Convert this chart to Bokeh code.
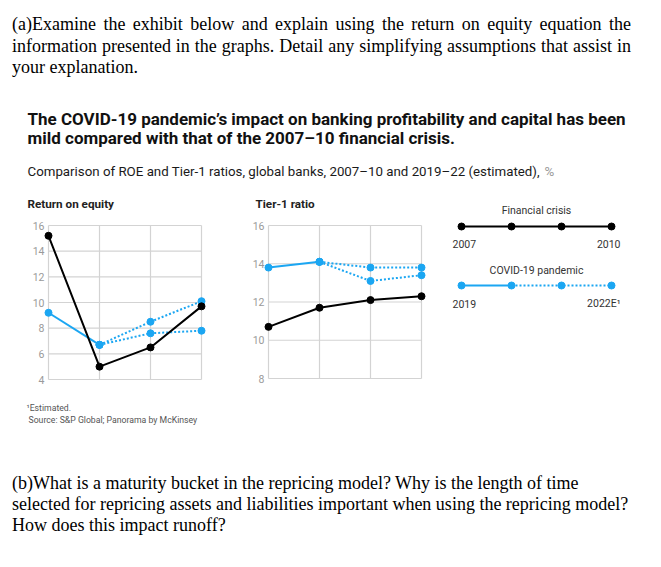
from bokeh.plotting import figure
from bokeh.models import Range1d, Div
from bokeh.layouts import column
from bokeh.embed import file_html
from bokeh.resources import INLINE
from bokeh.core.properties import value

# ---------------- data ----------------
periods = [0, 1, 2, 3]
roe_crisis = [15.2, 5.0, 6.5, 9.7]
roe_covid_actual = [9.2, 6.7]
roe_covid_est_high = [6.7, 8.5, 10.1]
roe_covid_est_low = [6.7, 7.6, 7.8]
roe_ticks = [4, 6, 8, 10, 12, 14, 16]

tier1_crisis = [10.7, 11.7, 12.1, 12.3]
tier1_covid_actual = [13.8, 14.1]
tier1_covid_est_high = [14.1, 13.8, 13.8]
tier1_covid_est_low = [14.1, 13.1, 13.4]
tier1_ticks = [8, 10, 12, 14, 16]

legend_crisis_labels = ["2007", "2010"]
legend_covid_labels = ["2019", "2022E\u00b9"]

# ---------------- styles ----------------
BLACK = "#000000"
BLUE = "#1ba6f2"
GRID = "#d3d3d3"
TICK = "#9a9a9a"
SANS = "Roboto"

W, H = 645, 380

p = figure(width=W, height=H, output_backend="svg", toolbar_location=None,
           x_range=Range1d(0, W), y_range=Range1d(H, 0), min_border=0)
p.axis.visible = False
p.grid.visible = False
p.outline_line_color = None
p.background_fill_color = "white"
p.border_fill_color = "white"


def add_panel(name, px0, px1, py_top, py_bot, vmin, vmax):
    xs = (periods[-1] - periods[0]) / (px1 - px0)
    xstart = periods[0] - px0 * xs
    p.extra_x_ranges[name] = Range1d(xstart, xstart + W * xs)
    ys = (vmax - vmin) / (py_bot - py_top)
    ystart = vmin - (H - py_bot) * ys
    p.extra_y_ranges[name] = Range1d(ystart, ystart + H * ys)


def draw_panel(name, ticks, crisis, actual, est_hi, est_lo):
    kw = dict(x_range_name=name, y_range_name=name)
    vmin, vmax = ticks[0], ticks[-1]
    p.segment(x0=periods, y0=[vmin] * len(periods), x1=periods, y1=[vmax] * len(periods),
              line_color=GRID, line_width=1.2, **kw)
    p.segment(x0=[periods[0]] * len(ticks), y0=ticks, x1=[periods[-1]] * len(ticks), y1=ticks,
              line_color=GRID, line_width=1.2, **kw)
    p.text(x=[periods[0]] * len(ticks), y=ticks, text=[str(t) for t in ticks],
           x_offset=-4, text_align="right", text_baseline="middle",
           text_font=value(SANS), text_font_size="10.5px", text_color=TICK, **kw)
    for est in (est_hi, est_lo):
        p.line(periods[1:], est, line_color=BLUE, line_width=2, line_dash="2 2", **kw)
    p.line(periods[:2], actual, line_color=BLUE, line_width=2, **kw)
    for est in (est_hi, est_lo):
        p.scatter(periods[1:], est, size=7, color=BLUE, **kw)
    p.scatter(periods[:2], actual, size=7, color=BLUE, **kw)
    p.line(periods, crisis, line_color=BLACK, line_width=2, **kw)
    p.scatter(periods, crisis, size=7, color=BLACK, **kw)


add_panel("roe", 40, 193, 135, 289, roe_ticks[0], roe_ticks[-1])
add_panel("t1", 260, 413, 135, 288, tier1_ticks[0], tier1_ticks[-1])
add_panel("leg", 453, 603, 0, H, 0, 1)

draw_panel("roe", roe_ticks, roe_crisis, roe_covid_actual, roe_covid_est_high, roe_covid_est_low)
draw_panel("t1", tier1_ticks, tier1_crisis, tier1_covid_actual, tier1_covid_est_high, tier1_covid_est_low)

# titles
p.text(x=[19, 19], y=[28, 47],
       text=["The COVID-19 pandemic\u2019s impact on banking profitability and capital has been",
             "mild compared with that of the 2007\u201310 financial crisis."],
       text_font=value(SANS), text_font_style="bold", text_font_size="17px",
       text_color="#111111", text_baseline="middle")
p.text(x=[19], y=[81],
       text=["Comparison of ROE and Tier-1 ratios, global banks, 2007\u201310 and 2019\u201322 (estimated),"],
       text_font=value(SANS), text_font_size="13.3px", text_color="#1a1a1a",
       text_baseline="middle")
p.text(x=[536], y=[81], text=["%"],
       text_font=value(SANS), text_font_size="13.3px", text_color="#999999",
       text_baseline="middle")
p.text(x=[19, 247], y=[113, 113], text=["Return on equity", "Tier-1 ratio"],
       text_font=value(SANS), text_font_style="bold", text_font_size="11.7px",
       text_color="#222222", text_baseline="middle")

# legend keys
leg_kw = dict(x_range_name="leg")
p.line(periods, [136] * 4, line_color=BLACK, line_width=2, **leg_kw)
p.scatter(periods, [136] * 4, size=7, color=BLACK, **leg_kw)
p.line(periods[:2], [195] * 2, line_color=BLUE, line_width=2, **leg_kw)
p.line(periods[1:], [195] * 3, line_color=BLUE, line_width=2, line_dash="2 2", **leg_kw)
p.scatter(periods, [195] * 4, size=7, color=BLUE, **leg_kw)
p.text(x=[1.5, 1.5], y=[120, 180], text=["Financial crisis", "COVID-19 pandemic"],
       text_align="center", text_baseline="middle", text_font=value(SANS),
       text_font_size="10.5px", text_color="#333333", **leg_kw)
p.text(x=[periods[0], periods[-1]], y=[153, 153], text=legend_crisis_labels,
       x_offset=[-9, 9], text_align=["left", "right"], text_baseline="middle",
       text_font=value(SANS), text_font_size="10.5px", text_color="#333333", **leg_kw)
p.text(x=[periods[0], periods[-1]], y=[213, 213], text=legend_covid_labels,
       x_offset=[-9, 9], text_align=["left", "right"], text_baseline="middle",
       text_font=value(SANS), text_font_size="10.5px", text_color="#333333", **leg_kw)

# footnotes
p.text(x=[18, 20], y=[317, 329],
       text=["\u00b9Estimated.", "Source: S&P Global; Panorama by McKinsey"],
       text_font=value(SANS), text_font_size="8.7px", text_color="#555555",
       text_baseline="middle")

top_html = (
    "<div style=\"font-family:'Liberation Serif';font-size:18px;line-height:21.5px;color:#000;"
    "width:623px;padding:6px 0 0 4px;\">"
    "<div style='text-align:justify;text-align-last:justify;'>(a)Examine the exhibit below and explain using the return on equity equation the</div>"
    "<div style='text-align:justify;text-align-last:justify;'>information presented in the graphs. Detail any simplifying assumptions that assist in</div>"
    "<div>your explanation.</div></div>"
)
bot_html = (
    "<div style=\"font-family:'Liberation Serif';font-size:18px;line-height:21px;color:#000;"
    "width:630px;padding:3px 0 0 4px;\">"
    "<div>(b)What is a maturity bucket in the repricing model? Why is the length of time</div>"
    "<div>selected for repricing assets and liabilities important when using the repricing model?</div>"
    "<div>How does this impact runoff?</div></div>"
)
top = Div(text=top_html, width=W, height=82, margin=0)
bot = Div(text=bot_html, width=W, height=89, margin=0)

layout = column(top, p, bot, spacing=0, margin=(8, 0, 0, 8))
open("out.html", "w").write(file_html(layout, INLINE))
